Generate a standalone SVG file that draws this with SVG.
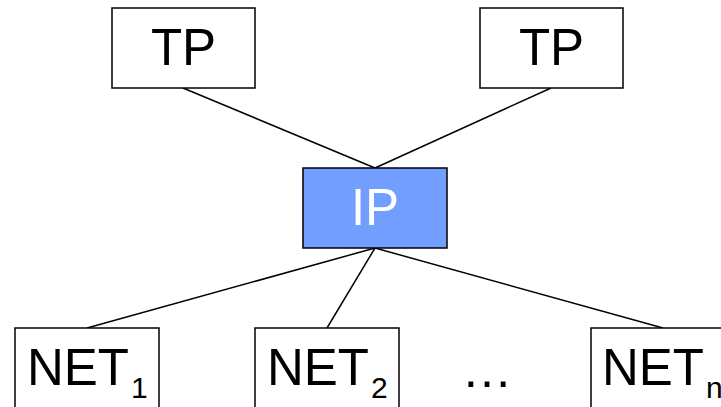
<svg xmlns="http://www.w3.org/2000/svg" width="721" height="407" viewBox="0 0 721 407">
<style>
.box{fill:#fff;stroke:#000;stroke-width:1.5}
.ip{fill:#729fff;stroke:#000;stroke-width:1.5}
.lbl{font-family:"Liberation Sans",Arial,sans-serif;font-size:51px;fill:#000}
.sub{font-family:"Liberation Sans",Arial,sans-serif;font-size:30px;fill:#000}
.conn line{stroke:#000;stroke-width:1.5}
</style>
<rect width="721" height="407" fill="#fff"/>
<g id="connectors" class="conn">
<line x1="183" y1="88" x2="375" y2="168"/>
<line x1="551" y1="88" x2="375" y2="168"/>
<line x1="375" y1="248" x2="87" y2="328"/>
<line x1="375" y1="248" x2="327" y2="328"/>
<line x1="375" y1="248" x2="663" y2="328"/>
</g>
<g id="tp1"><rect class="box" x="112" y="8" width="143" height="80"/><text class="lbl" x="183.5" y="65" text-anchor="middle">TP</text></g>
<g id="tp2"><rect class="box" x="480" y="8" width="143" height="80"/><text class="lbl" x="551.5" y="65" text-anchor="middle">TP</text></g>
<g id="ip"><rect class="ip" x="303" y="168" width="144" height="80"/><text class="lbl" x="375" y="225" text-anchor="middle" style="fill:#fff">IP</text></g>
<g id="net1"><rect class="box" x="15" y="328" width="144" height="90"/><text class="lbl" x="27" y="385">NET</text><text class="sub" x="131" y="398">1</text></g>
<g id="net2"><rect class="box" x="255" y="328" width="144" height="90"/><text class="lbl" x="267" y="385">NET</text><text class="sub" x="371" y="398">2</text></g>
<g id="dots"><text class="lbl" x="487" y="387" text-anchor="middle">…</text></g>
<g id="netn"><rect class="box" x="591" y="328" width="144" height="90"/><text class="lbl" x="602" y="385">NET</text><text class="sub" x="706" y="398">n</text></g>
</svg>
